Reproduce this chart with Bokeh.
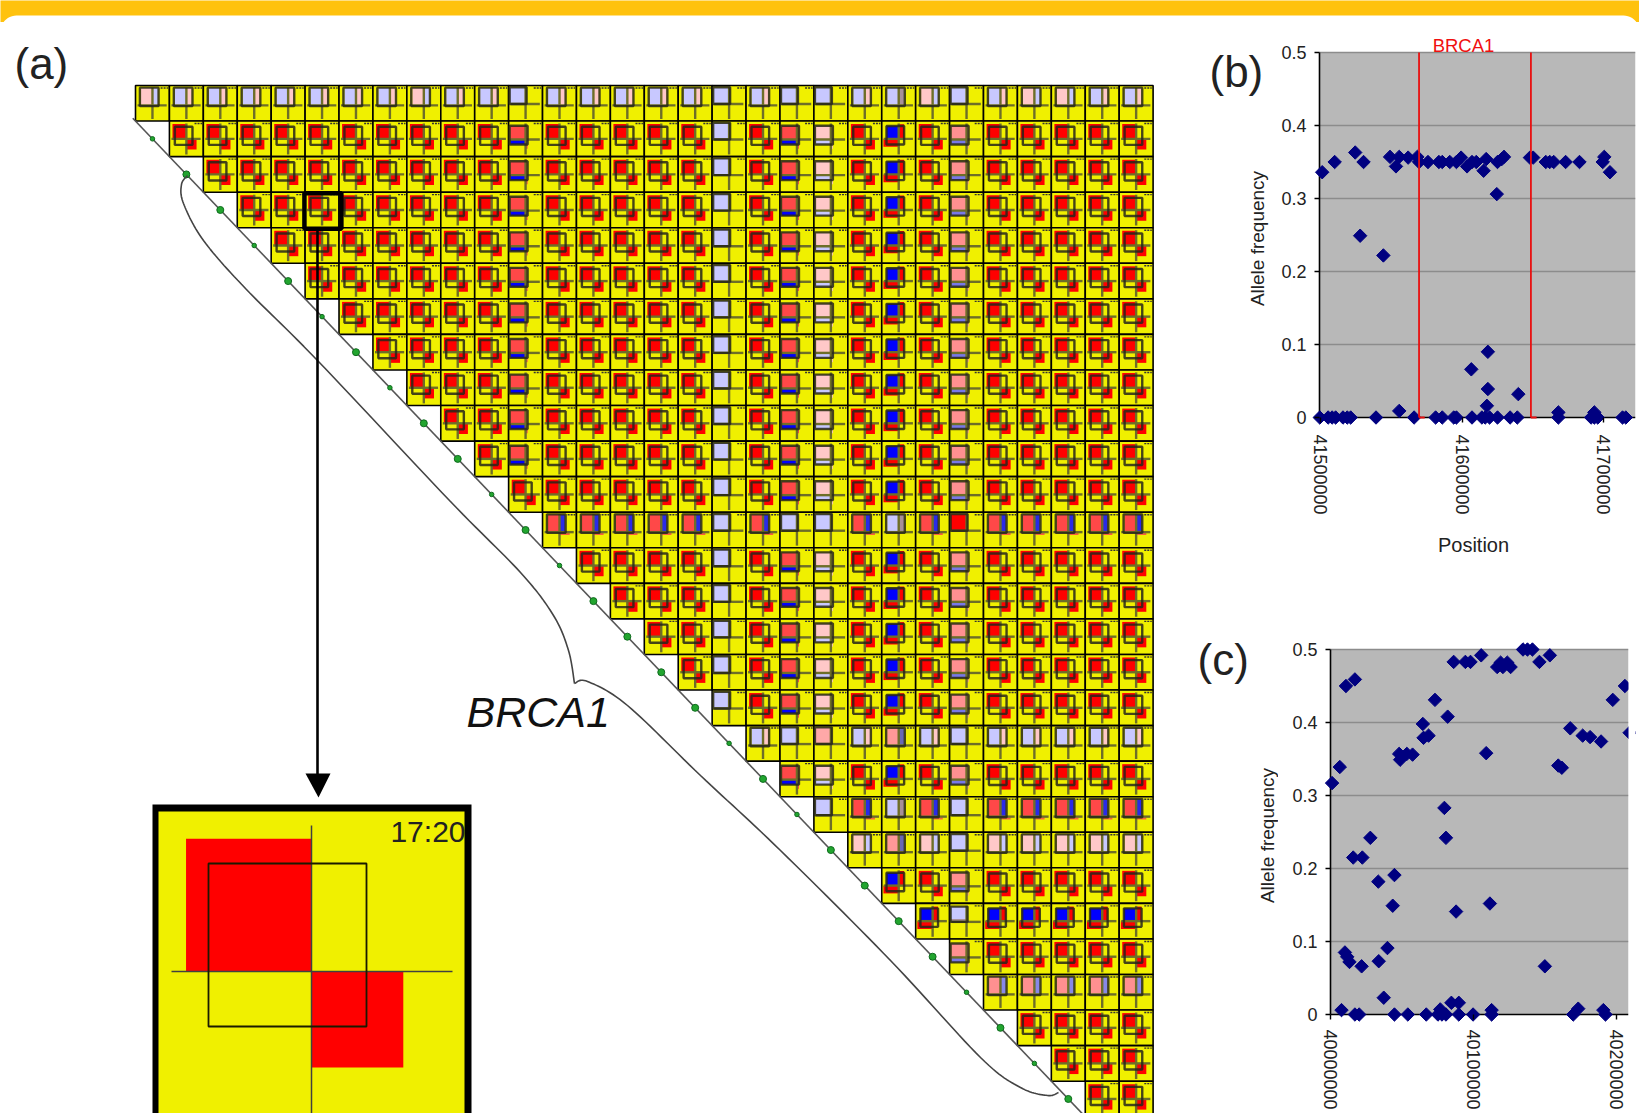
import numpy as np
from bokeh.plotting import figure
from bokeh.layouts import row, column
from bokeh.models import Label, FixedTicker, Range1d
from bokeh.embed import file_html
from bokeh.resources import INLINE

# ---------- data ----------
FIRST_ROW = "abbbbbbbabbLbbbbbLbLLbGaLbaabb"
NORMAL_ROW = "RRRRRRRRRRRSRRRRRLRSPRBRMRRRRR"
SPECIAL_ROWS = {
    12: "VVVVVLVLLVGVXVVVVV",
    18: "bLEbDbLbbbbb",
    20: "LVGVLVVVVV",
    21: "aDaLaaaaa",
    22: "BRMRRRRR",
    23: "BHBBBBB",
    24: "MRRRRR",
    25: "QQQQQ",
}
N_COLS = 30
N_ROWS = 29
HIGHLIGHT = (3, 5)
SNP_BIG = [0,1,1,0,1,0,1,0,1,1,0,1,0,1,1,1,1,0,1,0,1,1,1,1,0,1,0,1]

b_x = [41501200,41510000,41524500,41530400,41549100,41555600,41553300,41561900,41568400,41569600,41575900,41583600,41586000,41591300,41596000,41599300,41603500,41607000,41610000,41615200,41617000,41625000,41628000,41629600,41624500,41647900,41650200,41659100,41661900,41664700,41673100,41682900,41699300,41700400,41704400,
       41528000,41544400,41618200,41606500,41618200,41639700,41617500,41555600,41668000,41693400,
       41499500,41505400,41508200,41510700,41515900,41518900,41521300,41539200,41566100,41581300,41586000,41594100,41596000,41607000,41614000,41616300,41619400,41625000,41633900,41639000,41668000,41691100,41693400,41695800,41713300,41715600]
b_y = [.336,.35,.363,.35,.357,.357,.344,.356,.357,.35,.35,.35,.35,.35,.35,.356,.344,.35,.35,.338,.354,.35,.354,.357,.306,.356,.356,.35,.35,.35,.35,.35,.35,.357,.336,
       .249,.222,.09,.066,.039,.032,.016,.009,.007,.007,
       0,0,0,0,0,0,0,0,0,0,0,0,0,0,0,0,0,0,0,0,0,0,0,0,0,0]
c_x = [40000900,40006300,40010600,40016900,40015700,40022100,40027700,40033300,40044600,40043400,40009900,40011500,40013100,40021600,40033600,40039700,40037100,40007500,40016900,40019900,40044600,40054000,40066900,40075100,40077900,40080700,40076700,40084500,40089700,40089700,40099700,40112700,40112700,
       40047900,40048600,40053300,40057300,40064500,40065000,40068500,40073000,40081900,40079600,40080700,40087800,40086100,40094300,40097900,40105400,40108900,40111500,40116600,40119000,40120600,40123700,40126000,40134700,40137800,40141300,40146200,40153500,40150000,40159400,40161900,40167800,40176500,40181700,40189400,40197600,40206100,40209400,40169900,40173400,40191000,40192500]
c_y = [.317,.339,.45,.459,.215,.215,.242,.182,.191,.149,.085,.079,.072,.066,.073,.091,.023,.006,0,0,0,0,0,0,0,0,.007,.016,.016,0,0,.006,0,
       .357,.349,.357,.356,.398,.379,.382,.431,.408,.283,.242,.141,.483,.483,.483,.492,.358,.152,.476,.482,.476,.482,.476,.5,.5,.5,.483,.492,.066,.341,.338,.392,.382,.38,.374,.431,.45,.386,0,.008,.006,0]
BRCA1_BOUNDS = [41569600, 41648600]
Y_TICKS = [0, .1, .2, .3, .4, .5]
Y_LABELS = ["0", "0.1", "0.2", "0.3", "0.4", "0.5"]
B_TICKS = [41500000, 41600000, 41700000]
C_TICKS = [40000000, 40100000, 40200000]

# ---------- styles ----------
FONT = "Liberation Sans"
YEL, RED, LAV, PALE, MED, BLU = "#F0F000", "#FF0000", "#C8C8FF", "#FFC8C8", "#FF9090", "#0000FF"
PR, PER, MAU, SLATE = "#FF4848", "#7878E8", "#A89098", "#6A68B4"
ORANGE, NAVY, GREY = "#FFC20E", "#000080", "#B8B8B8"

def vert(left, right, box=(.13, .68, .06, .58)):
    return dict(fills=[(.16, .5, .07, .56, left), (.5, .66, .07, .56, right)], box=box, cross=(.5, .56))
def plain(c):
    return dict(fills=[(.04, .52, .06, .5, c)], box=(.03, .53, .05, .52), cross=(.5, .52))
def horiz(top, bot):
    return dict(fills=[(.05, .55, .14, .52, top), (.05, .55, .52, .66, bot), (.5, .56, .66, .78, top)],
                box=(.03, .56, .13, .66), cross=(.5, .52))
TYPES = {
    "R": dict(fills=[(.09, .5, .085, .5, RED), (.5, .8, .5, .8, RED)], box=(.16, .68, .16, .67), cross=(.5, .5)),
    "B": dict(fills=[(.5, .66, .09, .5, RED), (.05, .5, .5, .72, RED), (.14, .5, .14, .5, BLU)], box=(.14, .66, .14, .66), cross=(.5, .5)),
    "S": horiz(PR, BLU), "P": horiz(PALE, LAV), "M": horiz(MED, PER),
    "L": plain(LAV), "E": plain("#FFA8A8"), "X": plain(RED),
    "H": dict(fills=[(.04, .52, .1, .44, LAV), (.04, .52, .44, .52, MAU)], box=(.03, .53, .09, .52), cross=(.5, .52)),
    "a": vert(PALE, LAV), "b": vert(LAV, PALE), "G": vert(LAV, MAU),
    "D": vert("#FF9898", SLATE), "Q": vert(MED, "#8888E8"),
}
TYPES["V"] = vert(PR, "#2A2AE8")
TYPES["V"]["fills"] = TYPES["V"]["fills"] + [(.5, .8, .58, .64, "#F86040")]

# ---------- panel (a) : pixel helpers ----------
CW, RH, X0, Y0 = 33.92, 35.56, 135.0, 85.0
A_W = 1278
fx = lambda px: (px - X0) / CW
fy = lambda py: (py - Y0) / RH

a = figure(width=A_W, height=1091, x_range=Range1d(fx(0), fx(A_W)), y_range=Range1d(fy(1113), fy(22)),
           x_axis_location=None, y_axis_location=None, toolbar_location=None, output_backend="svg",
           min_border=0, outline_line_color=None)
a.grid.visible = False

def code(r, c):
    if r == 0:
        return FIRST_ROW[c]
    if r in SPECIAL_ROWS:
        return SPECIAL_ROWS[r][c - r]
    if r == 11 and c == 11:
        return "R"
    if r >= 26:
        return "R"
    return NORMAL_ROW[c]

cells = [(r, c, code(r, c)) for r in range(N_ROWS) for c in range(r, N_COLS)]
a.quad(left=[c for r, c, k in cells], right=[c + 1 for r, c, k in cells], top=[r for r, c, k in cells],
       bottom=[r + 1 for r, c, k in cells], fill_color=YEL, line_color="black", line_width=1.6)
fl = {k: [] for k in ("l", "r", "t", "b", "c")}
bx = {k: [] for k in ("l", "r", "t", "b")}
cr = {k: [] for k in ("x0", "x1", "y0", "y1")}
mk = {k: [] for k in ("x0", "x1", "y")}
for r, c, k in cells:
    T = TYPES[k]
    for x0, x1, y0, y1, col in T["fills"]:
        fl["l"].append(c + x0); fl["r"].append(c + x1); fl["t"].append(r + y0); fl["b"].append(r + y1); fl["c"].append(col)
    x0, x1, y0, y1 = T["box"]
    bx["l"].append(c + x0); bx["r"].append(c + x1); bx["t"].append(r + y0); bx["b"].append(r + y1)
    cx, cy = T["cross"]
    cr["x0"] += [c + cx, c + .06]; cr["x1"] += [c + cx, c + .92]
    cr["y0"] += [r + min(.07, y0), r + cy]; cr["y1"] += [r + .94, r + cy]
    mk["x0"].append(c + .74); mk["x1"].append(c + .96); mk["y"].append(r + .07)
a.quad(left=fl["l"], right=fl["r"], top=fl["t"], bottom=fl["b"], fill_color=fl["c"], line_color=None)
a.segment(x0=cr["x0"], x1=cr["x1"], y0=cr["y0"], y1=cr["y1"], line_color="#6E6E28", line_width=2.4)
a.quad(left=bx["l"], right=bx["r"], top=bx["t"], bottom=bx["b"], fill_color=None, line_color="#26261A",
       line_alpha=.85, line_width=2.4)
a.segment(x0=mk["x0"], x1=mk["x1"], y0=mk["y"], y1=mk["y"], line_color="#333333", line_width=1.4, line_dash="2 1")

# diagonal and SNP dots
a.line([-0.08, N_COLS], [0.92, N_COLS + 1], line_color="#555555", line_width=1.6)
a.scatter([i + .5 for i in range(len(SNP_BIG))], [i + 1.5 for i in range(len(SNP_BIG))],
          size=[7 if s else 4.5 for s in SNP_BIG], fill_color="#22A52F", line_color="#0F6B1E", line_width=1)

# highlighted cell
a.quad(left=[HIGHLIGHT[1] - .02], right=[HIGHLIGHT[1] + 1.07], top=[HIGHLIGHT[0] + .03], bottom=[HIGHLIGHT[0] + 1.03],
       fill_color=None, line_color="black", line_width=4.5)

# brace
def smooth(pts, n=14):
    P = np.array([pts[0]] + pts + [pts[-1]], float)
    out = []
    for i in range(1, len(P) - 2):
        for t in np.linspace(0, 1, n, endpoint=False):
            out.append(.5 * (2 * P[i] + (P[i + 1] - P[i - 1]) * t + (2 * P[i - 1] - 5 * P[i] + 4 * P[i + 1] - P[i + 2]) * t ** 2
                             + (3 * P[i] - P[i - 1] - 3 * P[i + 1] + P[i + 2]) * t ** 3))
    out.append(P[-2])
    return np.array(out)
brace_l = [(187, 175), (181, 184), (183, 203), (203, 240), (245, 288), (317, 360), (449, 500), (520, 572), (553, 615), (568, 650), (574, 683)]
brace_r = [(574, 683), (587, 681), (627, 705), (700, 775), (780, 850), (890, 960), (980, 1057), (1020, 1087), (1047, 1095), (1058, 1092)]
for pts in (brace_l, brace_r):
    S = smooth(pts)
    a.line(fx(S[:, 0]), fy(S[:, 1]), line_color="#444444", line_width=1.6)

# enlarged cell
ix, iy, sx_, sy_ = fx(158), fy(811), 306 / CW, 320 / RH
a.quad(left=[fx(152)], right=[fx(471)], top=[fy(804)], bottom=[fy(1125)], fill_color="black", line_color=None)
a.quad(left=[fx(158)], right=[fx(464)], top=[fy(811)], bottom=[fy(1125)], fill_color=YEL, line_color=None)
RT = TYPES["R"]
a.quad(left=[ix + f[0] * sx_ for f in RT["fills"]], right=[ix + f[1] * sx_ for f in RT["fills"]],
       top=[iy + f[2] * sy_ for f in RT["fills"]], bottom=[iy + f[3] * sy_ for f in RT["fills"]], fill_color=RED, line_color=None)
a.segment(x0=[ix + .5 * sx_, fx(171)], x1=[ix + .5 * sx_, fx(452)], y0=[fy(825), fy(971)], y1=[fy(1125), fy(971)],
          line_color="#404040", line_width=1.5)
a.quad(left=[fx(208)], right=[fx(366)], top=[fy(863)], bottom=[fy(1026)], fill_color=None, line_color="#1A1A00", line_width=1.8)
a.add_layout(Label(x=fx(465), y=fy(831), text="17:20", text_font=FONT, text_font_size="30px", text_color="#222222",
                   text_align="right", text_baseline="alphabetic"))

# arrow
a.line([fx(317), fx(317)], [fy(228), fy(775)], line_color="black", line_width=2.6)
a.patch([fx(305), fx(330), fx(318)], [fy(773), fy(773), fy(797)], fill_color="black", line_color=None)

def panel_text(x, y, text, size, **kw):
    a.add_layout(Label(x=fx(x), y=fy(y), text=text, text_font=FONT, text_font_size=size,
                       text_color=kw.pop("color", "#222222"), text_baseline=kw.pop("baseline", "middle"), **kw))
panel_text(14, 63, "(a)", "44px")
panel_text(1209, 71, "(b)", "44px")
panel_text(1197, 659, "(c)", "44px")
panel_text(466, 711, "BRCA1", "43px", text_font_style="italic", color="#111111", baseline="alphabetic")
panel_text(1257, 238, "Allele frequency", "19px", angle=np.pi / 2, text_align="center")
panel_text(1267, 835, "Allele frequency", "19px", angle=np.pi / 2, text_align="center")

# ---------- panels (b) and (c) ----------
FRAME_L, FRAME_R = 1310, 1634
def scatter_panel(xs, ys, ticks, px0, px_tick0, px_tick1, grey_r, top_px, bot_px, fig_top, fig_bot, ext_top):
    bp = (ticks[1] - ticks[0]) / (px_tick1 - px_tick0)
    vp = .5 / (bot_px - top_px)
    X = lambda px: ticks[0] + (px - px_tick0) * bp
    Y = lambda py: (bot_px - py) * vp
    p = figure(width=1639 - A_W, height=fig_bot - fig_top, frame_width=FRAME_R - FRAME_L,
               frame_height=int(bot_px - top_px + 8 + ext_top),
               x_range=Range1d(X(FRAME_L), X(FRAME_R)), y_range=Range1d(Y(bot_px + 8), Y(top_px - ext_top)),
               toolbar_location=None, output_backend="svg", outline_line_color=None,
               min_border_left=FRAME_L - A_W, min_border_right=1639 - FRAME_R,
               min_border_top=int(top_px - ext_top - fig_top), min_border_bottom=int(fig_bot - bot_px - 8))
    p.grid.visible = False
    p.quad(left=[X(px0)], right=[X(grey_r)], top=[.5], bottom=[0], fill_color=GREY, line_color=None)
    p.segment(x0=[X(px0)] * 5, x1=[X(grey_r)] * 5, y0=Y_TICKS[1:], y1=Y_TICKS[1:], line_color="#8C8C8C", line_width=1.6)
    p.segment(x0=[X(px0), X(px0)], x1=[X(grey_r), X(px0)], y0=[0, 0], y1=[0, .5], line_color="black", line_width=1.6)
    ax, ay = p.xaxis[0], p.yaxis[0]
    ax.ticker, ay.ticker = FixedTicker(ticks=ticks), FixedTicker(ticks=Y_TICKS)
    ax.major_label_overrides = {t: str(t) for t in ticks}
    ay.major_label_overrides = dict(zip(Y_TICKS, Y_LABELS))
    ax.major_label_orientation = "vertical"
    for A in (ax, ay):
        A.axis_line_color = None
        A.major_tick_line_color = "black"; A.major_tick_line_width = 1.4
        A.minor_tick_line_color = None
        A.major_label_text_font = FONT; A.major_label_text_font_size = "18px"; A.major_label_text_color = "#222222"
    ax.major_tick_in, ax.major_tick_out = 8, -3
    left_ext = px0 - FRAME_L
    ay.major_tick_in, ay.major_tick_out = left_ext, -(left_ext - 5)
    p.scatter(xs, ys, marker="square", angle=np.pi / 4, size=9.5, fill_color=NAVY, line_color=NAVY)
    if grey_r < FRAME_R:
        p.quad(left=[X(grey_r)], right=[X(FRAME_R)], top=[Y(top_px - ext_top)], bottom=[Y(bot_px + 8)],
               fill_color="white", line_color=None)
    return p, X, Y

b, bX, bY = scatter_panel(b_x, b_y, B_TICKS, 1318, 1319, 1460.6, 1634, 52, 417, 22, 605, 16)
b.xaxis[0].major_label_standoff, b.yaxis[0].major_label_standoff = 9, 5
b.segment(x0=BRCA1_BOUNDS, x1=BRCA1_BOUNDS, y0=[0, 0], y1=[.5, .5], line_color="#E81010", line_width=1.8)
b.segment(x0=BRCA1_BOUNDS, x1=[v + 4000 for v in BRCA1_BOUNDS], y0=[0, 0], y1=[0, 0], line_color="#E81010", line_width=1.8)
b.add_layout(Label(x=bX(1462), y=bY(45), text="BRCA1", text_font=FONT, text_font_size="18.5px", text_color="#F01010",
                   text_align="center", text_baseline="middle"))
b.xaxis[0].axis_label = "Position"
b.xaxis[0].axis_label_text_font = FONT
b.xaxis[0].axis_label_text_font_style = "normal"
b.xaxis[0].axis_label_text_font_size = "20px"
b.xaxis[0].axis_label_text_color = "#222222"
b.xaxis[0].axis_label_standoff = 16

c, cX, cY = scatter_panel(c_x, c_y, C_TICKS, 1329, 1329.3, 1472, 1627, 649, 1014, 605, 1113, 8)
c.xaxis[0].major_label_standoff, c.yaxis[0].major_label_standoff = 7, -6

# ---------- top band ----------
strip = figure(width=1639, height=22, x_range=Range1d(0, 1639), y_range=Range1d(22, 0), x_axis_location=None,
               y_axis_location=None, toolbar_location=None, output_backend="svg", min_border=0, outline_line_color=None,
               background_fill_color=ORANGE, border_fill_color=ORANGE)
strip.grid.visible = False
th = np.linspace(np.pi, 1.5 * np.pi, 12)
R = 16
xs = list(R + R * np.cos(th)) + list((1639 - R) - R * np.cos(th[::-1])) + [1639, 0]
ys = list(15 + R + R * np.sin(th)) + list(15 + R + R * np.sin(th[::-1])) + [22, 22]
strip.patch(xs, ys, fill_color="white", line_color=None)

root = column(strip, row(a, column(b, c, spacing=0), spacing=0), spacing=0)
open("out.html", "w").write(file_html(root, INLINE))
